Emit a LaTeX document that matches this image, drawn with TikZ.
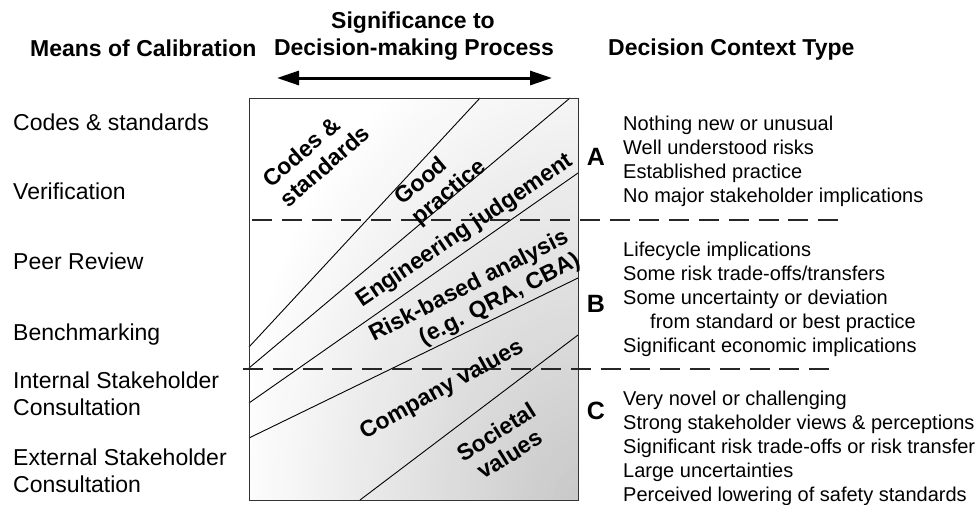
\documentclass[tikz,border=0pt]{standalone}
\usepackage{fontspec}
\setmainfont{Liberation Sans}
\usetikzlibrary{arrows.meta}
\begin{document}
\begin{tikzpicture}[x=1pt,y=-1pt,
  lbl/.style={anchor=base west, inner sep=0pt, font=\fontsize{23}{27}\selectfont, align=left},
  hdr/.style={inner sep=0pt, font=\bfseries\fontsize{23}{27}\selectfont},
  ctx/.style={anchor=base west, inner sep=0pt, font=\fontsize{20}{24}\selectfont, align=left},
  letter/.style={anchor=base, inner sep=0pt, font=\bfseries\fontsize{25}{28}\selectfont},
  band/.style={inner sep=0pt, font=\bfseries\fontsize{23}{26}\selectfont},
  sep/.style={draw=black!85, line width=1.1pt, dash pattern=on 20pt off 9.8pt},
  divider/.style={draw=black, line width=0.9pt},
  bigarrow/.style={line width=3pt, {Triangle[length=22pt,width=14pt]}-{Triangle[length=22pt,width=14pt]}}
]
\useasboundingbox (0,0) rectangle (976,504);

% shaded field (stepped radial gradient from the lower right corner)
\begin{scope}
  \clip (249,98) rectangle (578,500);
  \foreach \k in {60,59,...,1} {
    \pgfmathsetmacro\g{22*(1-\k/60)}
    \pgfmathsetmacro\rx{\k/60*350}
    \pgfmathsetmacro\ry{\k/60*500}
    \fill[black!\g] (582,506) ellipse [x radius=\rx pt, y radius=\ry pt];
  }
\end{scope}

% band dividers
\draw[divider] (480,98) -- (249,347);
\draw[divider] (570,98) -- (249,368);
\draw[divider] (578,173) -- (249,403);
\draw[divider] (578,278) -- (249,438);
\draw[divider] (578,335) -- (360,500);

% frame
\node[draw=black!80, line width=1.4pt, minimum width=329pt, minimum height=402pt, inner sep=0pt, anchor=north west] (box) at (249,98) {};

% dashed separators
\coordinate (dA1) at (252,220);
\coordinate (dA2) at (838,220);
\coordinate (dB1) at (243,369);
\coordinate (dB2) at (830,369);
\draw[sep] (dA1) -- (dA2);
\draw[sep] (dB1) -- (dB2);

% headers
\node[hdr, anchor=base] (sig1) at (413,28) {Significance to};
\node[hdr, anchor=base] (sig2) at (414,55) {Decision-making Process};
\node[hdr, anchor=base west] (mc) at (30,56) {Means of Calibration};
\node[hdr, anchor=base west] (dct) at (608,55) {Decision Context Type};
\coordinate (arrL) at (277,78);
\coordinate (arrR) at (552,78);
\draw[bigarrow] (arrL) -- (arrR);

% means of calibration (base = last line)
\node[lbl] (m1) at (13,130) {Codes \& standards};
\node[lbl] (m2) at (13,199) {Verification};
\node[lbl] (m3) at (13,269) {Peer Review};
\node[lbl] (m4) at (13,340) {Benchmarking};
\node[lbl] (m5) at (13,415) {Internal Stakeholder\\Consultation};
\node[lbl] (m6) at (13,492) {External Stakeholder\\Consultation};

% band labels
\node[band, rotate=41, align=left] (cs) at (316,156) {Codes \&\\standards};
\node[band, rotate=40, align=left] (gp) at (441,183) {Good\\practice};
\node[band, rotate=34] (ej) at (465,231) {Engineering judgement};
\node[band, rotate=27, align=right] (rb) at (475,298) {Risk-based analysis\\(e.g. QRA, CBA)};
\node[band, rotate=29] (cv) at (442,390) {Company values};
\node[band, rotate=32, align=center] (sv) at (503,443) {Societal\\values};

% decision context types (base = last line)
\node[letter] (tA) at (596,165) {A};
\node[letter] (tB) at (596,312) {B};
\node[letter] (tC) at (596,419) {C};
\node[ctx] (cA) at (623,202) {Nothing new or unusual\\Well understood risks\\Established practice\\No major stakeholder implications};
\node[ctx] (cB) at (623,352) {Lifecycle implications\\Some risk trade-offs/transfers\\Some uncertainty or deviation\\\hspace*{27pt}from standard or best practice\\Significant economic implications};
\node[ctx] (cC) at (623,501) {Very novel or challenging\\Strong stakeholder views \& perceptions\\Significant risk trade-offs or risk transfer\\Large uncertainties\\Perceived lowering of safety standards};
\end{tikzpicture}
\end{document}
